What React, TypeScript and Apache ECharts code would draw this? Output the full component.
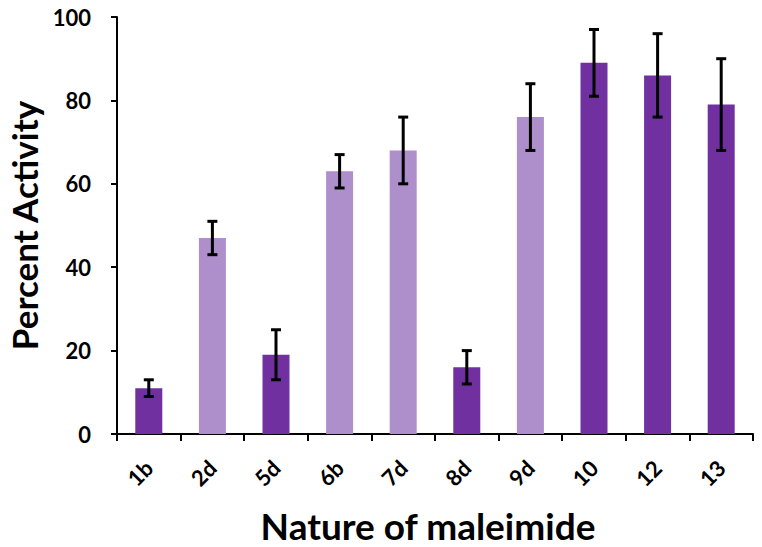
import React, { useEffect, useRef } from "react";
import * as echarts from "echarts";

const categories = ["1b", "2d", "5d", "6b", "7d", "8d", "9d", "10", "12", "13"];
const values = [11, 47, 19, 63, 68, 16, 76, 89, 86, 79];
const errors = [2, 4, 6, 4, 8, 4, 8, 8, 10, 11];
const isDark = [true, false, true, false, false, true, false, true, true, true];
const yTicks = [0, 20, 40, 60, 80, 100];

const DARK = "#7030A0";
const LIGHT = "#AF8ECC";
const FONT = "Lato";

export default function App() {
  const ref = useRef<HTMLDivElement>(null);
  useEffect(() => {
    if (!ref.current) return;
    const chart = echarts.init(ref.current, undefined, { renderer: "svg" });
    const barData = values.map((v, i) => ({
      value: v,
      itemStyle: { color: isDark[i] ? DARK : LIGHT },
    }));
    const errData = values.map((v, i) => [i, v - errors[i], v + errors[i]]);
    chart.setOption({
      animation: false,
      grid: { left: 117, right: 9, top: 17, bottom: 113, containLabel: false, outerBoundsMode: "none" },
      xAxis: {
        type: "category",
        data: categories,
        name: "Nature of maleimide",
        nameLocation: "middle",
        nameGap: 73,
        nameTextStyle: {
          fontFamily: FONT,
          fontWeight: "bold",
          fontSize: 37,
          color: "#000",
          padding: [0, 14, 0, 0],
        },
        axisLine: { lineStyle: { color: "#000", width: 2 } },
        axisTick: { show: true, length: 7, lineStyle: { color: "#000", width: 2 } },
        axisLabel: {
          rotate: 45,
          margin: 30,
          fontFamily: FONT,
          fontWeight: "bold",
          fontSize: 22,
          color: "#000",
        },
      },
      yAxis: {
        type: "value",
        min: 0,
        max: 100,
        interval: 20,
        name: "Percent Activity",
        nameLocation: "middle",
        nameGap: 74,
        nameTextStyle: { fontFamily: FONT, fontWeight: "bold", fontSize: 35, color: "#000" },
        axisLine: { show: true, lineStyle: { color: "#000", width: 2 } },
        axisTick: { show: true, length: 6, inside: false, lineStyle: { color: "#000", width: 2 } },
        splitLine: { show: false },
        axisLabel: {
          margin: 26,
          fontFamily: FONT,
          fontWeight: "bold",
          fontSize: 22,
          color: "#000",
          formatter: (v: number) => (yTicks.includes(v) ? String(v) : ""),
        },
      },
      series: [
        {
          type: "bar",
          data: barData,
          barWidth: 27,
          z: 2,
        },
        {
          type: "custom",
          z: 3,
          data: errData,
          renderItem: (params: any, api: any) => {
            const x = api.value(0);
            const lo = api.coord([x, api.value(1)]);
            const hi = api.coord([x, api.value(2)]);
            const half = 5;
            const style = { stroke: "#000", lineWidth: 3 };
            return {
              type: "group",
              children: [
                { type: "line", shape: { x1: lo[0], y1: lo[1], x2: hi[0], y2: hi[1] }, style },
                { type: "line", shape: { x1: lo[0] - half, y1: lo[1], x2: lo[0] + half, y2: lo[1] }, style },
                { type: "line", shape: { x1: hi[0] - half, y1: hi[1], x2: hi[0] + half, y2: hi[1] }, style },
              ],
            };
          },
        },
      ],
    });
    return () => chart.dispose();
  }, []);
  return (
    <div
      ref={ref}
      style={{ position: "absolute", left: 0, top: 0, width: 762, height: 547 }}
    />
  );
}
